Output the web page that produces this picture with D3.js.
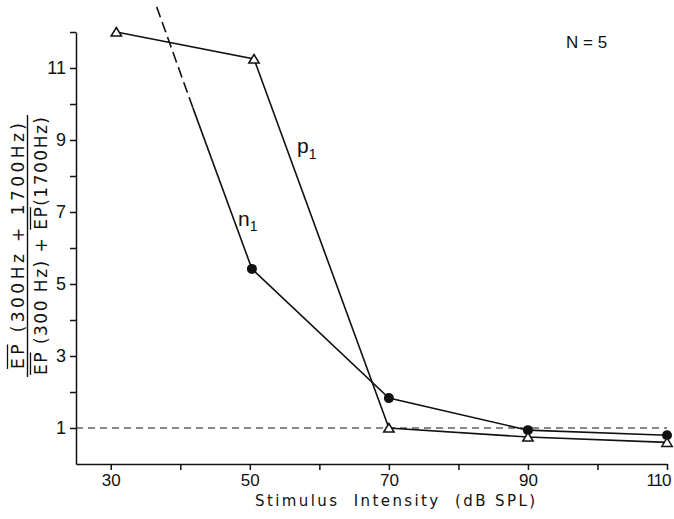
<!DOCTYPE html>
<html>
<head>
<meta charset="utf-8">
<script src="https://cdn.jsdelivr.net/npm/d3@7"></script>
<style>
  body { margin: 0; background: #fff; }
  svg { display: block; }
  text { font-family: "Liberation Sans", Arial, sans-serif; fill: #111; }
</style>
</head>
<body>
<div id="chart"></div>
<script>
const intensityTicks = [30, 40, 50, 60, 70, 80, 90, 100, 110]
const intensityLabels = [30, 50, 70, 90, 110]
const ratioTicks = [1, 2, 3, 4, 5, 6, 7, 8, 9, 10, 11, 12]
const ratioLabels = [1, 3, 5, 7, 9, 11]

// p1 (open triangles)
const p1Intensity = [30.8, 50.6, 70, 90, 110]
const p1Ratio = [12.0, 11.25, 1.0, 0.75, 0.6]
// n1 (filled circles)
const n1Intensity = [50.3, 70, 90, 110]
const n1Ratio = [5.42, 1.83, 0.94, 0.8]
// n1 continued off-scale toward 30 dB: solid part, then dashed
const n1SolidIntensity = [50.3, 41.8]
const n1SolidRatio = [5.42, 9.9]
const n1DashIntensity = [41.8, 36.6]
const n1DashRatio = [9.9, 12.7]

const refRatio = 1

const width = 674, height = 519
const svg = d3.select('#chart').append('svg')
    .attr('width', width)
    .attr('height', height)

const x = d3.scaleLinear().domain([25, 110]).range([76, 667])
const y = d3.scaleLinear().domain([0, 12]).range([464, 32])

// axes
const xAxis = d3.axisBottom(x)
    .tickValues(intensityTicks)
    .tickSize(6)
    .tickSizeOuter(0)
    .tickPadding(4)
    .tickFormat(d => intensityLabels.includes(d) ? d : '')

const yAxis = d3.axisLeft(y)
    .tickValues(ratioTicks)
    .tickSize(6)
    .tickSizeOuter(0)
    .tickPadding(4)
    .tickFormat(d => ratioLabels.includes(d) ? d : '')

const gx = svg.append('g')
    .attr('transform', `translate(0, ${y(0)})`)
    .call(xAxis)
gx.selectAll('text').style('font-size', '17px').attr('fill', '#111')
gx.selectAll('.tick')
    .filter(d => !intensityLabels.includes(d))
    .select('text').remove()
gx.selectAll('.tick')
    .filter(d => d === 110)
    .select('text')
    .attr('text-anchor', 'end')
    .attr('dx', 3)
    .style('letter-spacing', '-1px')

const gy = svg.append('g')
    .attr('transform', `translate(${x(25)}, 0)`)
    .call(yAxis)
gy.selectAll('text').style('font-size', '18px').attr('fill', '#111')
gy.selectAll('.tick')
    .filter(d => !ratioLabels.includes(d))
    .select('text').remove()

svg.selectAll('.domain, .tick line')
    .attr('stroke', '#111')
    .attr('stroke-width', 1.5)

// reference line at ratio 1
svg.append('line')
    .attr('x1', x(25)).attr('x2', x(110))
    .attr('y1', y(refRatio)).attr('y2', y(refRatio))
    .attr('stroke', '#111')
    .attr('stroke-width', 1.1)
    .attr('stroke-dasharray', '7,5')

const line = d3.line().x(d => x(d[0])).y(d => y(d[1]))
const pairs = (xs, ys) => xs.map((v, i) => [v, ys[i]])

svg.append('path')
    .datum(pairs(n1DashIntensity, n1DashRatio))
    .attr('d', line)
    .attr('fill', 'none')
    .attr('stroke', '#111')
    .attr('stroke-width', 1.6)
    .attr('stroke-dasharray', '11,5')

svg.append('path')
    .datum(pairs(n1SolidIntensity, n1SolidRatio))
    .attr('d', line)
    .attr('fill', 'none')
    .attr('stroke', '#111')
    .attr('stroke-width', 1.6)

svg.append('path')
    .datum(pairs(n1Intensity, n1Ratio))
    .attr('d', line)
    .attr('fill', 'none')
    .attr('stroke', '#111')
    .attr('stroke-width', 1.6)

svg.append('path')
    .datum(pairs(p1Intensity, p1Ratio))
    .attr('d', line)
    .attr('fill', 'none')
    .attr('stroke', '#111')
    .attr('stroke-width', 1.6)

// markers
svg.append('g').selectAll('circle')
    .data(pairs(n1Intensity, n1Ratio))
    .enter()
    .append('circle')
    .attr('cx', d => x(d[0]))
    .attr('cy', d => y(d[1]))
    .attr('r', 5)
    .attr('fill', '#111')

svg.append('g').selectAll('path')
    .data(pairs(p1Intensity, p1Ratio))
    .enter()
    .append('path')
    .attr('d', 'M0,-4.5L5.2,4L-5.2,4Z')
    .attr('transform', d => `translate(${x(d[0])}, ${y(d[1])})`)
    .attr('fill', '#fff')
    .attr('stroke', '#111')
    .attr('stroke-width', 1.5)

// curve labels
const n1Label = svg.append('text').attr('x', 238).attr('y', 226).style('font-size', '21px')
n1Label.append('tspan').text('n')
n1Label.append('tspan').attr('dy', 5).style('font-size', '14px').text('1')

const p1Label = svg.append('text').attr('x', 297).attr('y', 153).style('font-size', '21px')
p1Label.append('tspan').text('p')
p1Label.append('tspan').attr('dy', 6).style('font-size', '14px').text('1')

svg.append('text')
    .attr('x', 566).attr('y', 48)
    .style('font-size', '17px')
    .text('N = 5')

// x axis title
svg.append('text')
    .attr('x', 255).attr('y', 506)
    .attr('textLength', 280)
    .attr('lengthAdjust', 'spacing')
    .style('font-family', '"DejaVu Sans", sans-serif')
    .style('font-size', '15px')
    .style('white-space', 'pre')
    .text('Stimulus  Intensity  (dB SPL)')

// y axis title: fraction, rotated
const yTitle = svg.append('g').attr('transform', 'translate(0, 246) rotate(-90)')

const num = yTitle.append('text')
    .attr('x', -123).attr('y', 24)
    .attr('textLength', 246)
    .attr('lengthAdjust', 'spacing')
    .style('font-family', '"DejaVu Sans", sans-serif')
    .style('font-size', '17px')
    .text('EP (300Hz + 1700Hz)')

const den = yTitle.append('text')
    .attr('x', -129).attr('y', 47)
    .attr('textLength', 258)
    .attr('lengthAdjust', 'spacing')
    .style('font-family', '"DejaVu Sans", sans-serif')
    .style('font-size', '17px')
    .text('EP (300 Hz) + EP(1700Hz)')

yTitle.append('line')
    .attr('x1', -131).attr('x2', 131)
    .attr('y1', 27.5).attr('y2', 27.5)
    .attr('stroke', '#111')
    .attr('stroke-width', 1.4)

function overline(textSel, from, to, yPos) {
    const node = textSel.node()
    const a = node.getExtentOfChar(from)
    const b = node.getExtentOfChar(to)
    yTitle.append('line')
        .attr('x1', a.x).attr('x2', b.x + b.width)
        .attr('y1', yPos).attr('y2', yPos)
        .attr('stroke', '#111')
        .attr('stroke-width', 1.3)
}
overline(num, 0, 1, 7.5)
overline(den, 0, 1, 30.5)
const denText = 'EP (300 Hz) + EP(1700Hz)'
const second = denText.lastIndexOf('EP')
overline(den, second, second + 1, 30.5)
</script>
</body>
</html>
